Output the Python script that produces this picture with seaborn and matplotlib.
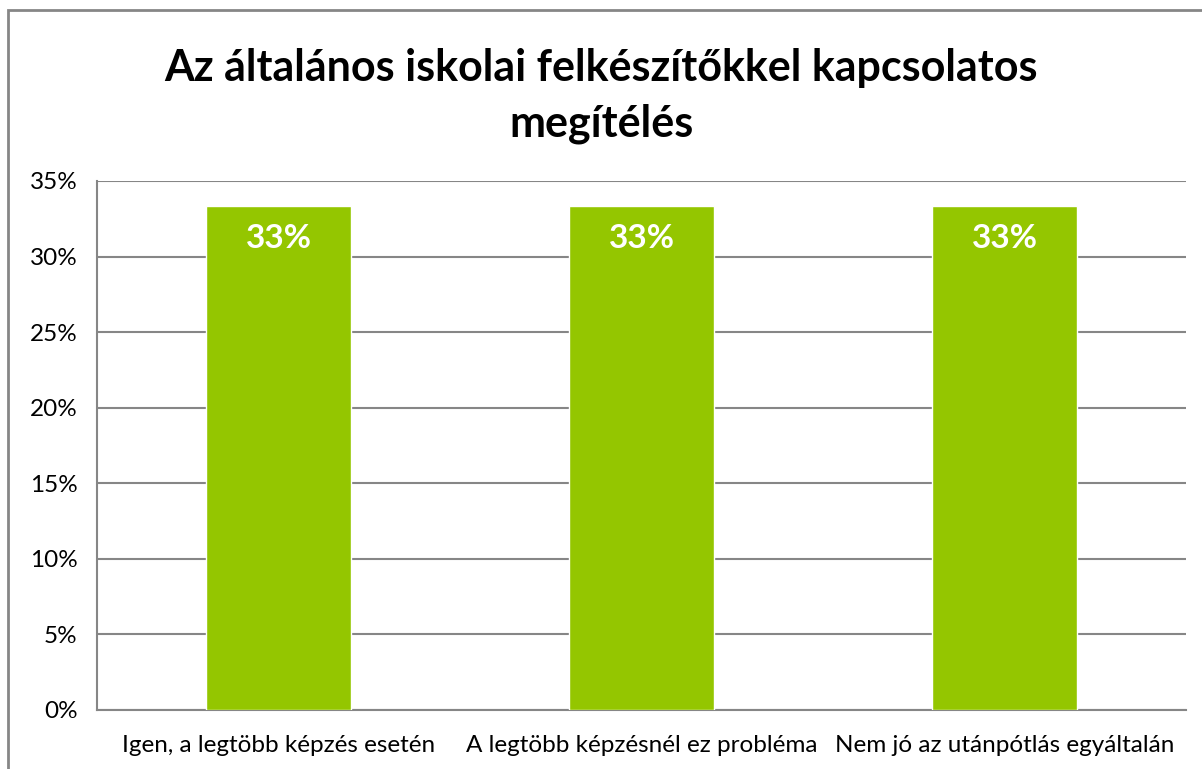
import matplotlib
matplotlib.use("Agg")
import matplotlib.pyplot as plt
import seaborn as sns
import pandas as pd
from matplotlib.ticker import PercentFormatter, MultipleLocator
from matplotlib.patches import Rectangle

categories = [
    "Igen, a legtöbb képzés esetén",
    "A legtöbb képzésnél ez probléma",
    "Nem jó az utánpótlás egyáltalán",
]
shares = [1 / 3, 1 / 3, 1 / 3]
title = "Az általános iskolai felkészítőkkel kapcsolatos\nmegítélés"

bar_color = "#94C600"
grid_color = "#868686"

sns.set_theme(style="white")
plt.rcParams["font.family"] = ["Lato", "DejaVu Sans"]
plt.rcParams["text.color"] = "black"

df = pd.DataFrame({"category": categories, "share": shares})

fig = plt.figure(figsize=(12.02, 7.69), dpi=100)
ax = fig.add_axes([97 / 1202, 1 - 710 / 769, (1186 - 97) / 1202, (710 - 181) / 769])

sns.barplot(data=df, x="category", y="share", color=bar_color, width=0.4,
            saturation=1, ax=ax, zorder=3)

ax.set_ylim(0, 0.35)
ax.yaxis.set_major_locator(MultipleLocator(0.05))
ax.yaxis.set_major_formatter(PercentFormatter(1, decimals=0))
ax.grid(axis="y", color=grid_color, linewidth=1.5, zorder=0)
ax.set_axisbelow(True)

for side in ("top", "right"):
    ax.spines[side].set_visible(False)
for side in ("left", "bottom"):
    ax.spines[side].set_color(grid_color)
    ax.spines[side].set_linewidth(1.5)

ax.tick_params(axis="both", length=0, labelsize=17.5, colors="black")
ax.tick_params(axis="y", pad=14)
ax.tick_params(axis="x", pad=18)
ax.set_xlabel("")
ax.set_ylabel("")

for container in ax.containers:
    ax.bar_label(container, labels=[f"{v:.0%}" for v in container.datavalues],
                 label_type="edge", padding=-34, color="white",
                 fontsize=24, fontweight="bold")

fig.text(0.5, 1 - 96 / 769, title, ha="center", va="center", color="black",
         fontsize=31, fontweight="bold", linespacing=1.5)

# outer chart frame, open at the right and bottom edges
fig.patches.append(Rectangle((8 / 1202, -0.05), 1.2, 1 - 10 / 769 + 0.05,
                             transform=fig.transFigure, fill=False,
                             edgecolor=grid_color, linewidth=2))

fig.savefig("out.png", dpi=100)
